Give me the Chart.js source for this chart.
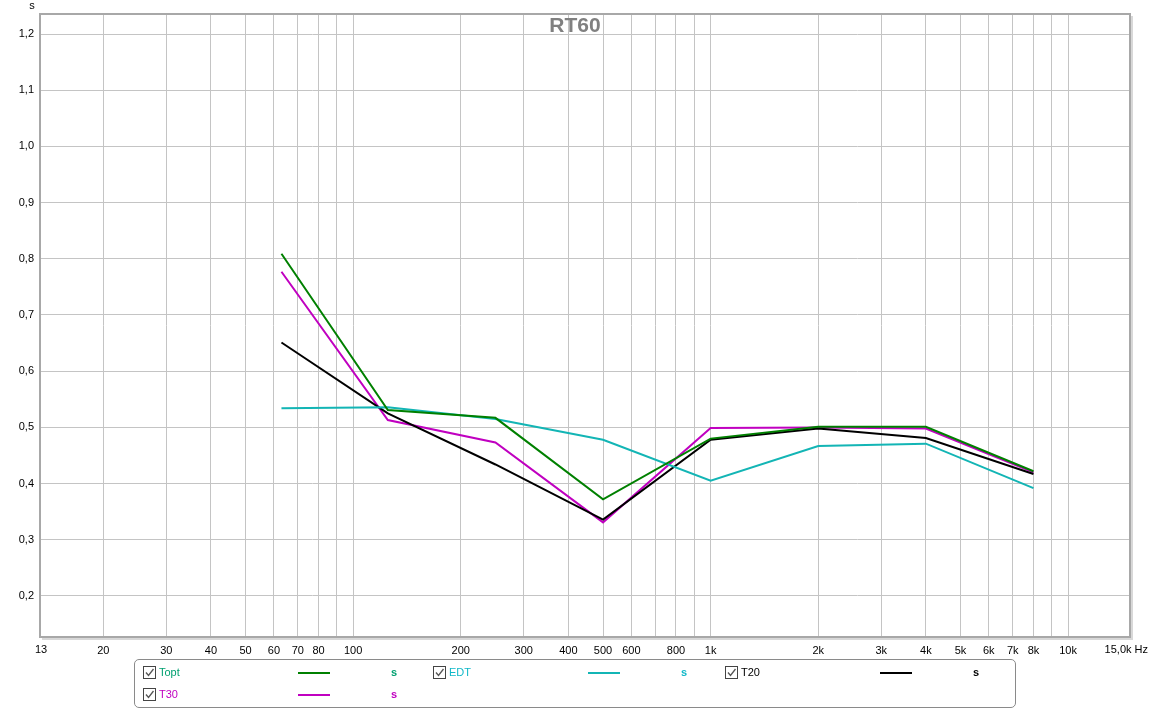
<!DOCTYPE html>
<html>
<head>
<meta charset="utf-8">
<script src="https://cdn.jsdelivr.net/npm/chart.js@4/dist/chart.umd.min.js"></script>
<style>
  html, body { margin: 0; padding: 0; background: #ffffff; }
  #wrap { position: relative; width: 1150px; height: 709px; }
  canvas { position: absolute; left: 0; top: 0; }
  #legend { position: absolute; left: 134px; top: 659px; width: 882px; height: 49px;
            border: 1px solid #8a8a8a; border-radius: 5px; box-sizing: border-box;
            font-family: "Liberation Sans", Arial, sans-serif; font-size: 11px; }
  .item { position: absolute; height: 14px; }
  .cb { position: absolute; top: 0; left: 0; width: 11px; height: 11px; border: 1px solid #444; background: #fff; }
  .cb svg { position: absolute; left: 0; top: 0; }
  .lbl { position: absolute; left: 16px; top: 0; line-height: 13px; }
  .ln { position: absolute; top: 6px; height: 2px; width: 32px; }
  .un { position: absolute; top: 0; line-height: 13px; font-weight: bold; }
</style>
</head>
<body>
<div id="wrap">
  <canvas id="c" width="1150" height="709"></canvas>
  <div id="legend"></div>
</div>
<script>
// ---- data ----
const freqs = [63, 125, 250, 500, 1000, 2000, 4000, 8000];
const toptValues = [0.809, 0.531, 0.517, 0.372, 0.480, 0.501, 0.501, 0.422];
const edtValues  = [0.534, 0.536, 0.515, 0.478, 0.405, 0.467, 0.471, 0.392];
const t20Values  = [0.651, 0.525, 0.434, 0.336, 0.478, 0.498, 0.481, 0.417];
const t30Values  = [0.777, 0.513, 0.473, 0.331, 0.499, 0.500, 0.498, 0.420];
const seriesNames = ["Topt", "EDT", "T20", "T30"];
const xGridValues = [20,30,40,50,60,70,80,90,100,200,300,400,500,600,700,800,900,
                     1000,2000,3000,4000,5000,6000,7000,8000,9000,10000];
const xLabelValues = [20,30,40,50,60,70,80,100,200,300,400,500,600,800,
                      1000,2000,3000,4000,5000,6000,7000,8000,10000];
const xLabelTexts  = ["20","30","40","50","60","70","80","100","200","300","400","500","600","800",
                      "1k","2k","3k","4k","5k","6k","7k","8k","10k"];
const xMinLabel = "13";
const xMaxLabel = "15,0k Hz";
const yTickValues = [0.2,0.3,0.4,0.5,0.6,0.7,0.8,0.9,1.0,1.1,1.2];
const yTickTexts  = ["0,2","0,3","0,4","0,5","0,6","0,7","0,8","0,9","1,0","1,1","1,2"];

const colors = { Topt: "#008000", EDT: "#13b5b5", T20: "#000000", T30: "#c000c0" };
const labelColors = { Topt: "#00a070", EDT: "#10b8c8", T20: "#000000", T30: "#c000c0" };
const FONT = '"Liberation Sans", Arial, sans-serif';

const mk = (arr) => freqs.map((f, i) => ({ x: f, y: arr[i] }));
const valuesBySeries = { Topt: toptValues, EDT: edtValues, T20: t20Values, T30: t30Values };

const framePlugin = {
  id: 'frame',
  beforeDatasetsDraw(chart) {
    const { ctx } = chart;
    ctx.save();
    ctx.fillStyle = '#808080';
    ctx.font = 'bold 21px ' + FONT;
    ctx.textAlign = 'center';
    ctx.textBaseline = 'middle';
    ctx.fillText('RT60', 575, 26);
    ctx.restore();
  },
  afterDraw(chart) {
    const { ctx, chartArea: a } = chart;
    ctx.save();
    ctx.strokeStyle = '#d8d8d8';
    ctx.lineWidth = 2;
    ctx.beginPath();
    ctx.moveTo(a.right + 2, a.top + 2); ctx.lineTo(a.right + 2, a.bottom + 2); ctx.lineTo(a.left + 2, a.bottom + 2);
    ctx.stroke();
    ctx.strokeStyle = '#a8a8a8';
    ctx.lineWidth = 2;
    ctx.strokeRect(a.left, a.top, a.right - a.left, a.bottom - a.top);
    ctx.fillStyle = '#000';
    ctx.font = '11px ' + FONT;
    ctx.textAlign = 'center';
    ctx.textBaseline = 'middle';
    ctx.fillText('s', 32, 6);
    // axis end labels
    const yl = a.bottom + 13;
    ctx.fillText(xMinLabel, a.left + 1, yl);
    ctx.textAlign = 'right';
    ctx.fillText(xMaxLabel, 1148, yl);
    ctx.restore();
  }
};

new Chart(document.getElementById('c'), {
  type: 'line',
  data: {
    datasets: seriesNames.map(n => ({
      label: n,
      data: mk(valuesBySeries[n]),
      borderColor: colors[n],
      borderWidth: 2,
      pointRadius: 0,
      tension: 0,
      fill: false
    }))
  },
  options: {
    responsive: false,
    animation: false,
    layout: { padding: { top: 14, right: 20, bottom: 0, left: 0 } },
    plugins: { legend: { display: false }, title: { display: false }, tooltip: { enabled: false } },
    scales: {
      x: {
        type: 'logarithmic',
        min: 13.3, max: 14900,
        afterFit: (s) => { s.height = 72; s.paddingRight = 0; s.paddingLeft = 0; },
        afterBuildTicks: (s) => { s.ticks = xGridValues.map(v => ({ value: v })); },
        border: { display: false },
        grid: { drawTicks: false, color: '#c4c4c4', lineWidth: 1 },
        ticks: {
          autoSkip: false, maxRotation: 0, padding: 7,
          color: '#000', font: { family: FONT, size: 11 },
          callback: (v) => { const i = xLabelValues.indexOf(v); return i >= 0 ? xLabelTexts[i] : ''; }
        }
      },
      y: {
        min: 0.127, max: 1.2356,
        afterFit: (s) => { s.width = 40; },
        afterBuildTicks: (s) => { s.ticks = yTickValues.map(v => ({ value: v })); },
        border: { display: false },
        grid: { drawTicks: false, color: '#c4c4c4', lineWidth: 1 },
        ticks: {
          padding: 6, color: '#000', font: { family: FONT, size: 11 },
          callback: (v) => { const i = yTickValues.findIndex(t => Math.abs(t - v) < 1e-6); return i >= 0 ? yTickTexts[i] : ''; }
        }
      }
    }
  },
  plugins: [framePlugin]
});

// ---- legend (HTML) ----
const legend = document.getElementById('legend');
const legendPos = [
  { n: "Topt", x: 8, y: 6 }, { n: "EDT", x: 298, y: 6 }, { n: "T20", x: 590, y: 6 },
  { n: "T30", x: 8, y: 28 }
];
const check = '<svg width="11" height="11"><path d="M2 5.5 L4.5 8.5 L9.5 2" stroke="#555" stroke-width="1.3" fill="none"/></svg>';
legendPos.forEach(p => {
  const it = document.createElement('div');
  it.className = 'item';
  it.style.left = p.x + 'px'; it.style.top = p.y + 'px';
  it.innerHTML = '<div class="cb">' + check + '</div>' +
    '<div class="lbl" style="color:' + labelColors[p.n] + '">' + p.n + '</div>' +
    '<div class="ln" style="left:155px;background:' + colors[p.n] + '"></div>' +
    '<div class="un" style="left:248px;color:' + labelColors[p.n] + '">s</div>';
  legend.appendChild(it);
});
</script>
</body>
</html>
